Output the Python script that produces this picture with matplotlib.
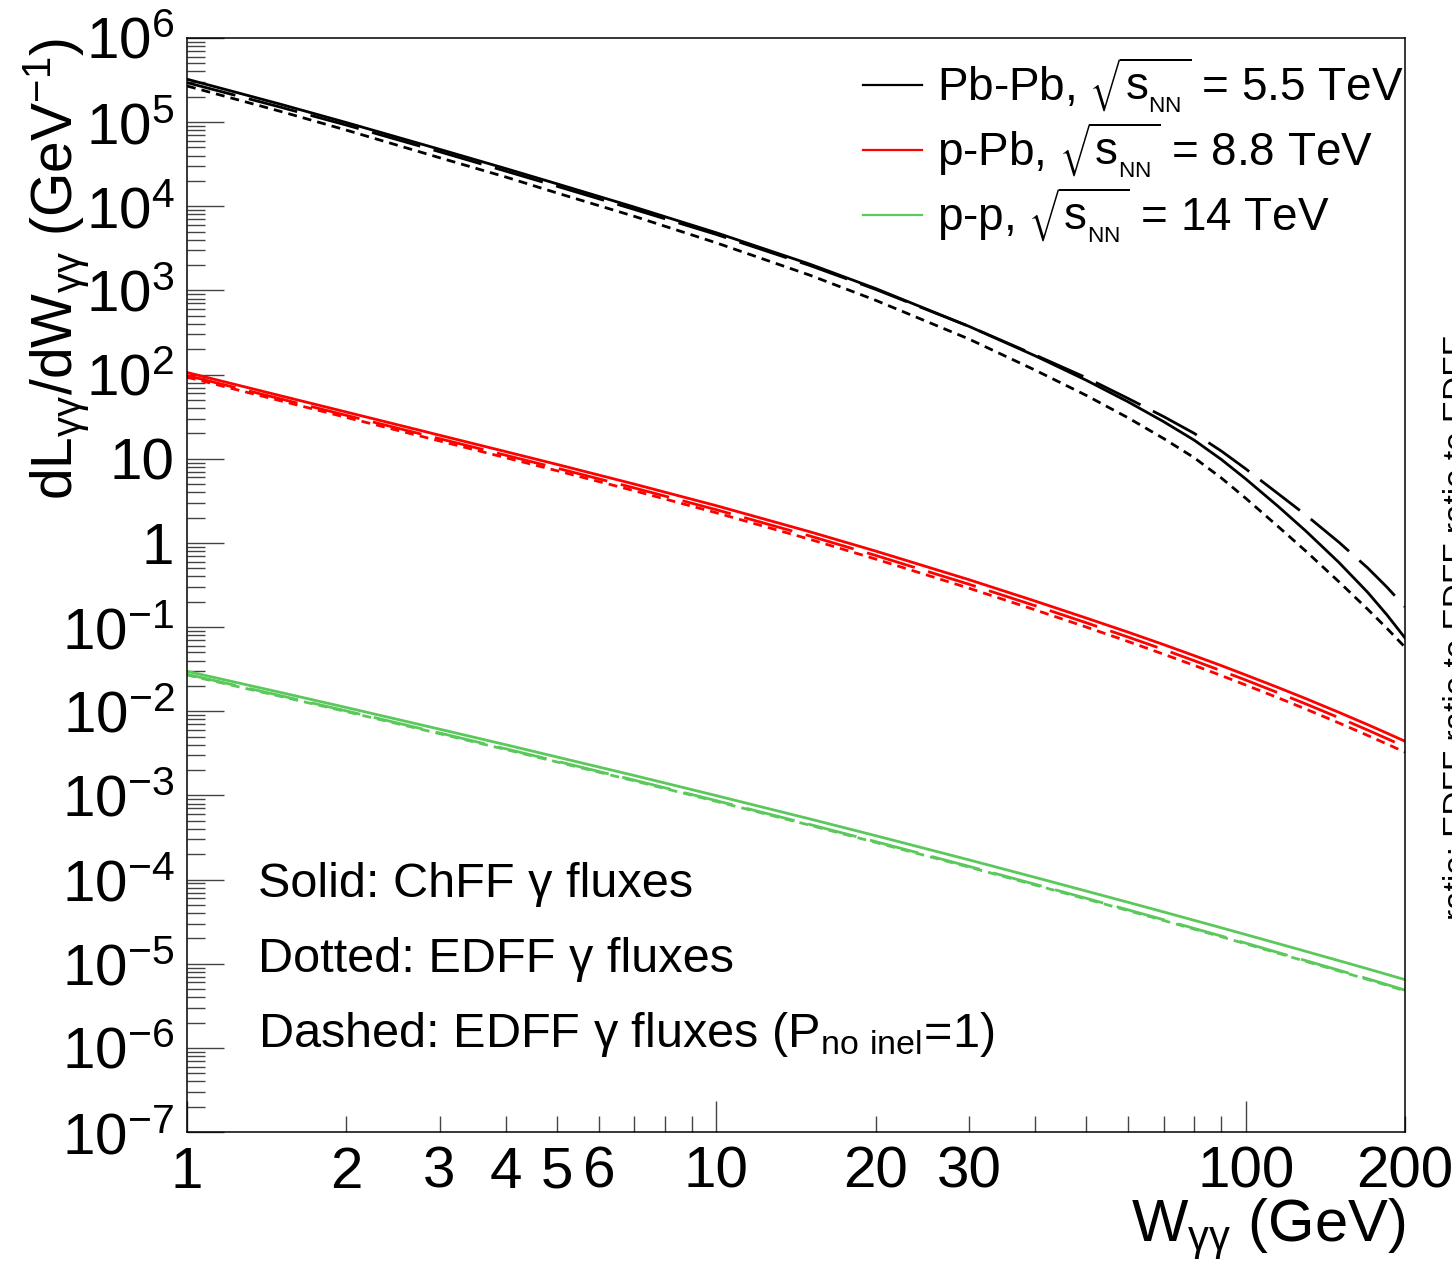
import matplotlib

matplotlib.use("Agg")

import matplotlib.pyplot as plt
import numpy as np
from matplotlib.lines import Line2D
from matplotlib.ticker import FixedLocator, FuncFormatter

plt.rcParams["font.family"] = ["Liberation Sans", "DejaVu Sans"]
plt.rcParams["mathtext.default"] = "regular"

FIG_W, FIG_H = 1452, 1263

# photon-photon invariant mass (GeV)
W_GEV = [1, 1.5, 2, 3, 4, 5, 7, 10, 15, 20, 30, 40, 50, 60, 70, 80, 90,
         100, 115, 130, 150, 170, 185, 200]

# dL/dW (GeV^-1)
PBPB_CHFF = [3.24e5, 1.637e5, 9.89e4, 4.76e4, 2.81e4, 1.85e4, 9.79e3, 4.85e3,
             2.06e3, 1.054e3, 375, 167.5, 85.7, 47.4, 27.6, 16.6, 9.79,
             5.77, 2.74, 1.38, 0.587, 0.259, 0.139, 0.0743]
PBPB_EDFF = [2.69e5, 1.346e5, 8.04e4, 3.78e4, 2.23e4, 1.44e4, 7.60e3, 3.68e3,
             1.524e3, 764, 265, 113.2, 56.6, 30.6, 17.4, 10.26, 5.90,
             3.40, 1.578, 0.796, 0.346, 0.163, 0.0962, 0.0577]
PBPB_EDFF_NOINEL = [2.95e5, 1.51e5, 9.23e4, 4.45e4, 2.62e4, 1.73e4, 9.18e3, 4.63e3,
                    1.986e3, 1.03e3, 375, 171.4, 91.8, 52.0, 31.7, 20.0, 12.33,
                    7.60, 3.87, 2.14, 1.02, 0.505, 0.297, 0.174]

PPB_CHFF = [106, 56.2, 35.9, 19.05, 12.16, 8.57, 5.00, 2.77,
            1.36, 0.80, 0.366, 0.204, 0.128, 0.0869, 0.0619, 0.0457, 0.0348,
            0.0270, 0.0192, 0.0141, 0.0097, 0.00693, 0.00548, 0.00440]
PPB_EDFF = [93.3, 49.0, 31.0, 16.29, 10.30, 7.21, 4.17, 2.28,
            1.107, 0.643, 0.290, 0.1603, 0.100, 0.0673, 0.0476, 0.0350, 0.0265,
            0.0205, 0.01449, 0.01059, 0.00726, 0.00516, 0.00407, 0.00326]
PPB_EDFF_NOINEL = [97.7, 51.6, 32.8, 17.34, 11.02, 7.74, 4.50, 2.48,
                   1.213, 0.710, 0.323, 0.1795, 0.1125, 0.0760, 0.0541, 0.0398, 0.0302,
                   0.0235, 0.01663, 0.01219, 0.00838, 0.00598, 0.00472, 0.00378]

PP_CHFF = [0.0298, 0.01675, 0.01107, 0.00612, 0.00400, 0.002858, 0.001722, 9.93e-4,
           5.26e-4, 3.32e-4, 1.714e-4, 1.062e-4, 7.29e-5, 5.36e-5, 4.12e-5, 3.27e-5, 2.67e-5,
           2.22e-5, 1.738e-5, 1.400e-5, 1.086e-5, 8.69e-6, 7.45e-6, 6.46e-6]
PP_EDFF = [0.02693, 0.01504, 0.00989, 0.00541, 0.00351, 0.002496, 0.001487, 8.48e-4,
           4.43e-4, 2.76e-4, 1.406e-4, 8.61e-5, 5.86e-5, 4.27e-5, 3.26e-5, 2.57e-5, 2.09e-5,
           1.723e-5, 1.334e-5, 1.064e-5, 8.19e-6, 6.49e-6, 5.53e-6, 4.75e-6]
PP_EDFF_NOINEL = [0.02748, 0.01535, 0.01009, 0.00552, 0.00358, 0.002547, 0.001517, 8.65e-4,
                  4.52e-4, 2.82e-4, 1.435e-4, 8.79e-5, 5.98e-5, 4.36e-5, 3.33e-5, 2.62e-5, 2.13e-5,
                  1.758e-5, 1.361e-5, 1.086e-5, 8.36e-6, 6.62e-6, 5.64e-6, 4.85e-6]

SYSTEMS = [
    ("Pb-Pb", "5.5", "black", PBPB_CHFF, PBPB_EDFF, PBPB_EDFF_NOINEL),
    ("p-Pb", "8.8", "#ff0000", PPB_CHFF, PPB_EDFF, PPB_EDFF_NOINEL),
    ("p-p", "14", "#5bc85b", PP_CHFF, PP_EDFF, PP_EDFF_NOINEL),
]

X_LABELED = [1, 2, 3, 4, 5, 6, 10, 20, 30, 100, 200]


def fx(x_px):
    return x_px / FIG_W


def fy(y_px):
    return 1 - y_px / FIG_H


def y_tick_label(value, _):
    exponent = int(round(np.log10(value)))
    if exponent == 0:
        return "1"
    if exponent == 1:
        return "10"
    return f"$10^{{{exponent}}}$"


def x_tick_label(value, _):
    for label in X_LABELED:
        if abs(value - label) < 1e-6 * label:
            return f"{label}"
    return ""


figure = plt.figure(figsize=(FIG_W / 100, FIG_H / 100), dpi=100)
axis = figure.add_axes([fx(187), fy(1132), fx(1405) - fx(187), fy(38) - fy(1132)])

line_width = 2.0
for name, energy, color, chff, edff, edff_noinel in SYSTEMS:
    axis.plot(W_GEV, edff, color=color, linewidth=line_width,
              linestyle=(0, (3.2, 2.2)))
    axis.plot(W_GEV, edff_noinel, color=color, linewidth=line_width,
              linestyle=(0, (18, 5)))
    axis.plot(W_GEV, chff, color=color, linewidth=line_width)

axis.set_xscale("log")
axis.set_yscale("log")
axis.set_xlim(1, 200)
axis.set_ylim(1e-7, 1e6)

axis.yaxis.set_major_locator(FixedLocator([10.0 ** e for e in range(-7, 7)]))
axis.yaxis.set_minor_locator(
    FixedLocator([k * 10.0 ** e for e in range(-7, 6) for k in range(2, 10)])
)
axis.yaxis.set_major_formatter(FuncFormatter(y_tick_label))

axis.xaxis.set_major_locator(FixedLocator([1, 10, 100]))
axis.xaxis.set_minor_locator(
    FixedLocator([k * 10.0 ** e for e in range(0, 2) for k in range(2, 10)] + [200])
)
axis.xaxis.set_major_formatter(FuncFormatter(x_tick_label))
axis.xaxis.set_minor_formatter(FuncFormatter(x_tick_label))

axis.tick_params(axis="y", which="major", direction="in", length=26.5, width=1.0,
                 labelsize=42, pad=9, right=False, color="#444444")
axis.tick_params(axis="y", which="minor", direction="in", length=13, width=1.0,
                 right=False, color="#444444")
axis.tick_params(axis="x", which="both", direction="in", width=1.0,
                 labelsize=42, pad=10, top=False, color="#444444")
axis.tick_params(axis="x", which="major", length=22)
axis.tick_params(axis="x", which="minor", length=11.5)

for spine in axis.spines.values():
    spine.set_linewidth(1.1)

figure.text(fx(72), fy(38), "dL$_{γγ}$/dW$_{γγ}$ (GeV$^{-1}$)", fontsize=41,
            rotation=90, rotation_mode="anchor", ha="right", va="baseline")
figure.text(fx(1405), fy(1242), "W$_{γγ}$ (GeV)", fontsize=43,
            ha="right", va="baseline")

# legend
legend_rows = [100, 165, 230]
for (name, energy, color, *_), baseline in zip(SYSTEMS, legend_rows):
    figure.add_artist(Line2D([fx(863), fx(922)], [fy(baseline - 15)] * 2,
                             color=color, linewidth=1.6))
    figure.text(fx(937), fy(baseline),
                f"{name}, $\\sqrt{{s{{}}_{{_{{NN}}}}}}$ = {energy} TeV",
                fontsize=33, ha="left", va="baseline")

notes = [
    (897, "Solid: ChFF γ fluxes"),
    (972, "Dotted: EDFF γ fluxes"),
    (1047, "Dashed: EDFF γ fluxes (P$_{no\\ inel}$=1)"),
]
for baseline, note in notes:
    figure.text(fx(258), fy(baseline), note, fontsize=35, ha="left", va="baseline")

# title of the neighbouring panel, cut by the right edge
figure.text(fx(1467), fy(920), "ratio: EDFF ratio to EDFF ratio to EDFF",
            fontsize=24, rotation=90, rotation_mode="anchor",
            ha="left", va="baseline")

figure.savefig("out.png", dpi=100)
plt.close(figure)
